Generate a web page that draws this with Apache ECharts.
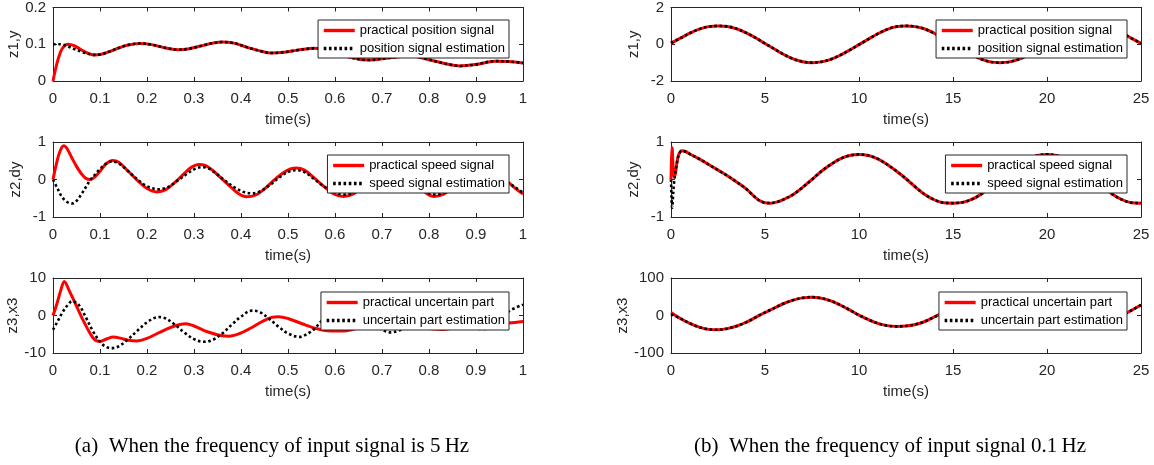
<!DOCTYPE html>
<html>
<head>
<meta charset="utf-8">
<script src="https://cdn.jsdelivr.net/npm/echarts@6/dist/echarts.min.js"></script>
<style>
  html, body { margin: 0; padding: 0; background: #fff; }
  #chart { width: 1154px; height: 465px; }
</style>
</head>
<body>
<div id="chart"></div>
<script>
// (a) 5 Hz input, [time, value]
const p1Red = [[0,0],[0.005,0.03],[0.011,0.06],[0.017,0.082],[0.024,0.095],[0.032,0.1],[0.045,0.096],[0.06,0.085],[0.075,0.075],[0.087,0.071],
  [0.1,0.072],[0.12,0.08],[0.14,0.09],[0.16,0.098],[0.185,0.102],[0.21,0.099],[0.24,0.09],[0.267,0.085],[0.29,0.088],[0.32,0.097],
  [0.34,0.103],[0.36,0.106],[0.385,0.103],[0.41,0.093],[0.44,0.082],[0.465,0.076],[0.49,0.078],[0.52,0.084],[0.557,0.089],[0.59,0.08],
  [0.63,0.065],[0.67,0.057],[0.71,0.062],[0.76,0.068],[0.8,0.058],[0.835,0.047],[0.866,0.041],[0.9,0.045],[0.94,0.054],[0.97,0.053],[1,0.049]];
const p1BlackStart = [[0,0.1],[0.015,0.1],[0.03,0.095],[0.045,0.087],[0.06,0.08],[0.075,0.074],[0.087,0.071]];
const p1Black = p1BlackStart.concat(p1Red.slice(10));

const p2Red = [[0,0],[0.006,0.35],[0.012,0.65],[0.018,0.84],[0.023,0.9],[0.03,0.82],[0.04,0.58],[0.05,0.35],[0.06,0.16],[0.07,0.03],
  [0.08,0],[0.09,0.08],[0.1,0.22],[0.113,0.42],[0.127,0.51],[0.14,0.46],[0.16,0.22],[0.18,-0.03],[0.2,-0.24],[0.221,-0.33],
  [0.24,-0.27],[0.26,-0.07],[0.28,0.17],[0.295,0.33],[0.31,0.4],[0.325,0.37],[0.34,0.24],[0.36,0.01],[0.38,-0.22],[0.395,-0.38],
  [0.412,-0.46],[0.43,-0.42],[0.45,-0.25],[0.47,-0.02],[0.49,0.18],[0.505,0.28],[0.518,0.31],[0.535,0.25],[0.555,0.05],[0.578,-0.2],
  [0.6,-0.4],[0.618,-0.45],[0.64,-0.38],[0.66,-0.15],[0.68,0.08],[0.7,0.24],[0.72,0.28],[0.74,0.2],[0.76,0],[0.78,-0.23],
  [0.8,-0.41],[0.81,-0.45],[0.83,-0.4],[0.85,-0.22],[0.87,0],[0.89,0.18],[0.91,0.26],[0.93,0.22],[0.95,0.08],[0.968,-0.07],[0.985,-0.25],[1,-0.39]];
const p2Black = [[0,0],[0.01,-0.25],[0.02,-0.48],[0.03,-0.6],[0.04,-0.64],[0.05,-0.57],[0.06,-0.4],[0.07,-0.2],[0.08,0],[0.09,0.14],
  [0.1,0.28],[0.113,0.42],[0.125,0.48],[0.14,0.43],[0.16,0.22],[0.18,0],[0.2,-0.18],[0.225,-0.26],[0.245,-0.2],[0.265,-0.03],
  [0.285,0.15],[0.3,0.27],[0.316,0.33],[0.33,0.3],[0.345,0.18],[0.365,-0.02],[0.385,-0.2],[0.405,-0.33],[0.423,-0.37],[0.44,-0.32],
  [0.46,-0.16],[0.48,0.04],[0.5,0.2],[0.518,0.25],[0.535,0.2],[0.555,0.02],[0.578,-0.2],[0.6,-0.35],[0.62,-0.4],[0.64,-0.34],
  [0.66,-0.14],[0.68,0.06],[0.7,0.2],[0.72,0.24],[0.74,0.17],[0.76,-0.02],[0.78,-0.22],[0.8,-0.37],[0.815,-0.4],[0.83,-0.36],
  [0.85,-0.2],[0.87,-0.01],[0.89,0.16],[0.91,0.22],[0.93,0.18],[0.95,0.05],[0.968,-0.08],[0.985,-0.22],[1,-0.35]];

const p3Red = [[0,0],[0.008,3],[0.016,6.5],[0.024,9.1],[0.035,6.5],[0.05,2.5],[0.065,-1.5],[0.08,-5],[0.09,-6.6],[0.1,-6.9],
  [0.115,-6.2],[0.128,-5.7],[0.145,-6.1],[0.16,-6.6],[0.178,-6.8],[0.2,-6.1],[0.225,-4.6],[0.25,-3.2],[0.27,-2.4],[0.283,-2.2],
  [0.3,-2.8],[0.33,-4.4],[0.36,-5.4],[0.375,-5.5],[0.395,-4.9],[0.42,-3.4],[0.445,-1.6],[0.465,-0.5],[0.48,-0.3],[0.5,-0.8],
  [0.53,-2.2],[0.564,-3.6],[0.59,-4.1],[0.62,-4.1],[0.65,-3.3],[0.68,-2.1],[0.71,-1.4],[0.74,-1.6],[0.77,-2.6],[0.8,-3.5],
  [0.83,-3.7],[0.86,-3.1],[0.89,-2.4],[0.92,-2.1],[0.95,-2.2],[0.97,-2],[1,-1.6]];
const p3Black = [[0,-3.8],[0.01,-1.5],[0.02,0.8],[0.03,2.6],[0.041,3.8],[0.055,2.8],[0.07,-0.5],[0.085,-4.2],[0.1,-7],[0.112,-8.3],
  [0.125,-8.7],[0.14,-8.2],[0.16,-6.3],[0.18,-4],[0.2,-1.8],[0.215,-0.7],[0.225,-0.4],[0.24,-0.8],[0.26,-2.5],[0.28,-4.6],
  [0.3,-6.3],[0.32,-7],[0.34,-6.5],[0.36,-4.8],[0.38,-2.5],[0.4,-0.3],[0.423,1.3],[0.44,0.9],[0.46,-0.9],[0.48,-3],
  [0.5,-4.8],[0.525,-5.7],[0.545,-4.6],[0.556,-3.6],[0.572,-1.4],[0.59,0.3],[0.62,1.4],[0.65,0.3],[0.68,-2.2],[0.7,-3.8],
  [0.717,-4.5],[0.74,-3.8],[0.77,-1.6],[0.8,0.5],[0.82,1.3],[0.85,0.2],[0.88,-2.2],[0.91,-3.6],[0.93,-3.4],[0.95,-1.5],[0.97,1.1],[1,2.9]];

// (b) 0.1 Hz input
const p4Red = [[0,0.05],[0.5,0.33],[1,0.6],[1.5,0.82],[2,0.96],[2.5,1],[3,0.97],[3.5,0.84],[4,0.62],[4.5,0.35],
  [5,0.04],[5.5,-0.26],[6,-0.56],[6.5,-0.8],[7,-0.95],[7.5,-1],[8,-0.96],[8.5,-0.82],[9,-0.6],[9.5,-0.32],
  [10,-0.02],[10.5,0.28],[11,0.57],[11.5,0.81],[12,0.96],[12.5,1],[13,0.96],[13.5,0.83],[14,0.6],[14.5,0.32],
  [15,0.02],[15.5,-0.28],[16,-0.57],[16.5,-0.81],[17,-0.96],[17.5,-1],[18,-0.96],[18.5,-0.82],[19,-0.6],[19.5,-0.32],
  [20,-0.02],[20.5,0.28],[21,0.57],[21.5,0.81],[22,0.95],[22.5,1],[23,0.96],[23.5,0.83],[24,0.6],[24.5,0.32],[25,0.05]];
const p4Black = [[0,0.08]].concat(p4Red.slice(1));

const p5Red = [[0,0],[0.03,0.6],[0.06,0.85],[0.1,0.45],[0.15,0.1],[0.22,0.12],[0.3,0.4],[0.4,0.65],[0.57,0.77],[0.8,0.74],
  [1,0.68],[1.5,0.55],[2,0.4],[2.5,0.25],[3,0.1],[3.5,-0.07],[4,-0.25],[4.4,-0.44],[4.7,-0.56],[5,-0.62],
  [5.3,-0.63],[5.7,-0.59],[6,-0.53],[6.5,-0.4],[7,-0.21],[7.5,0],[8,0.22],[8.5,0.4],[9,0.55],[9.5,0.64],
  [10,0.67],[10.5,0.64],[11,0.55],[11.5,0.4],[12,0.22],[12.5,0.02],[13,-0.2],[13.5,-0.4],[14,-0.54],[14.5,-0.62],
  [15,-0.63],[15.5,-0.61],[16,-0.53],[16.5,-0.39],[17,-0.2],[17.5,0.01],[18,0.22],[18.5,0.41],[19,0.55],[19.5,0.64],
  [20,0.67],[20.5,0.64],[21,0.55],[21.5,0.4],[22,0.22],[22.5,0.02],[23,-0.2],[23.5,-0.4],[24,-0.54],[24.5,-0.62],[25,-0.63]];
const p5BlackStart = [[0,0],[0.03,-0.5],[0.06,-0.75],[0.1,-0.5],[0.15,-0.15],[0.22,0.15],[0.3,0.4],[0.4,0.63],[0.57,0.76]];
const p5Black = p5BlackStart.concat(p5Red.slice(9));

const p6Red = [[0,8],[0.5,-8],[1,-21],[1.5,-31],[2,-37],[2.5,-38],[3,-35],[3.5,-28],[4,-18],[4.5,-5],
  [5,8],[5.5,20],[6,32],[6.5,41],[7,47],[7.5,49],[8,46],[8.5,39],[9,28],[9.5,15],
  [10,1],[10.5,-11],[11,-21],[11.5,-27],[12,-29],[12.5,-28],[13,-24],[13.5,-16],[14,-4],[14.5,9],
  [15,21],[15.5,32],[16,41],[16.5,47],[17,49],[17.5,49],[18,46],[18.5,39],[19,28],[19.5,15],
  [20,1],[20.5,-11],[21,-21],[21.5,-27],[22,-29],[22.5,-28],[23,-22],[23.5,-12],[24,0],[24.5,14],[25,28]];
const p6Black = [[0,3]].concat(p6Red.slice(1));

const legendNames = [
  ['practical position signal', 'position signal estimation'],
  ['practical speed signal', 'speed signal estimation'],
  ['practical uncertain part', 'uncertain part estimation']
];
const yNames = ['z1,y', 'z2,dy', 'z3,x3'];
const yRanges = [[0, 0.2, 0.1], [-1, 1, 1], [-10, 10, 10], [-2, 2, 2], [-1, 1, 1], [-100, 100, 100]];
const captions = ['(a)  When the frequency of input signal is 5\u2009Hz', '(b)  When the frequency of input signal 0.1\u2009Hz'];

const ink = '#262626';
const sans = '"Liberation Sans", Arial, Helvetica, sans-serif';
const serif = '21px "Liberation Serif", "Times New Roman", serif';
const rowTops = [6, 142, 278];
const legendTops = [20, 155, 292];

const panels = [
  { left: 53, x: [0, 1, 0.1], red: p1Red, black: p1Black },
  { left: 53, x: [0, 1, 0.1], red: p2Red, black: p2Black },
  { left: 53, x: [0, 1, 0.1], red: p3Red, black: p3Black },
  { left: 671, x: [0, 25, 5], red: p4Red, black: p4Black },
  { left: 671, x: [0, 25, 5], red: p5Red, black: p5Black },
  { left: 671, x: [0, 25, 5], red: p6Red, black: p6Black }
];

const grid = [], xAxis = [], yAxis = [], legend = [], series = [];

panels.forEach((p, i) => {
  const row = i % 3;
  const yr = yRanges[i];
  grid.push({ left: p.left, top: rowTops[row], width: 470, height: 75 });

  const axisLine = { show: true, onZero: false, lineStyle: { color: ink, width: 1 } };
  const tick = { show: true, inside: true, length: 4, lineStyle: { color: ink } };

  // bottom / left axes carry labels, top / right only close the box
  xAxis.push({
    type: 'value', gridIndex: i, min: p.x[0], max: p.x[1], interval: p.x[2],
    axisLine, axisTick: tick, splitLine: { show: false },
    axisLabel: { color: ink, fontSize: 15, fontFamily: sans, margin: 10 },
    name: 'time(s)', nameLocation: 'middle', nameGap: 31,
    nameTextStyle: { color: ink, fontSize: 15, fontFamily: sans }
  });
  xAxis.push({
    type: 'value', gridIndex: i, position: 'top', min: p.x[0], max: p.x[1], interval: p.x[2],
    axisLine, axisTick: tick, splitLine: { show: false }, axisLabel: { show: false }
  });
  yAxis.push({
    type: 'value', gridIndex: i, min: yr[0], max: yr[1], interval: yr[2],
    axisLine, axisTick: tick, splitLine: { show: false },
    axisLabel: { color: ink, fontSize: 15, fontFamily: sans, margin: 7 },
    name: yNames[row], nameLocation: 'middle', nameGap: 30,
    nameTextStyle: { color: ink, fontSize: 15, fontFamily: sans }
  });
  yAxis.push({
    type: 'value', gridIndex: i, position: 'right', min: yr[0], max: yr[1], interval: yr[2],
    axisLine, axisTick: tick, splitLine: { show: false }, axisLabel: { show: false }
  });

  const names = legendNames[row];
  legend.push({
    data: names, orient: 'vertical', selectedMode: false,
    right: i < 3 ? 645 : 27, top: legendTops[row],
    backgroundColor: '#fff', borderColor: ink, borderWidth: 1, borderRadius: 0,
    padding: [4, 4, 3, 4], itemGap: 5, itemWidth: 31, itemHeight: 14,
    itemStyle: { opacity: 0 },
    lineStyle: { width: 3.4 },
    textStyle: { color: '#000', fontSize: 13, fontFamily: sans }
  });

  series.push({
    name: names[0], type: 'line', xAxisIndex: 2 * i, yAxisIndex: 2 * i,
    data: p.red, symbol: 'none', smooth: 0.35,
    lineStyle: { color: '#ff0000', width: 3 }, itemStyle: { color: '#ff0000' }
  });
  series.push({
    name: names[1], type: 'line', xAxisIndex: 2 * i, yAxisIndex: 2 * i,
    data: p.black, symbol: 'none', smooth: 0.35,
    lineStyle: { color: '#000', width: 2.6, type: [2.6, 2.6] }, itemStyle: { color: '#000' }
  });
});

const chart = echarts.init(document.getElementById('chart'));
chart.setOption({
  animation: false,
  backgroundColor: '#fff',
  grid, xAxis, yAxis, legend, series,
  graphic: [
    { type: 'text', x: 272, y: 446, style: { text: captions[0], fill: '#000', font: serif, align: 'center', verticalAlign: 'middle' } },
    { type: 'text', x: 890, y: 446, style: { text: captions[1], fill: '#000', font: serif, align: 'center', verticalAlign: 'middle' } }
  ]
});
</script>
</body>
</html>
